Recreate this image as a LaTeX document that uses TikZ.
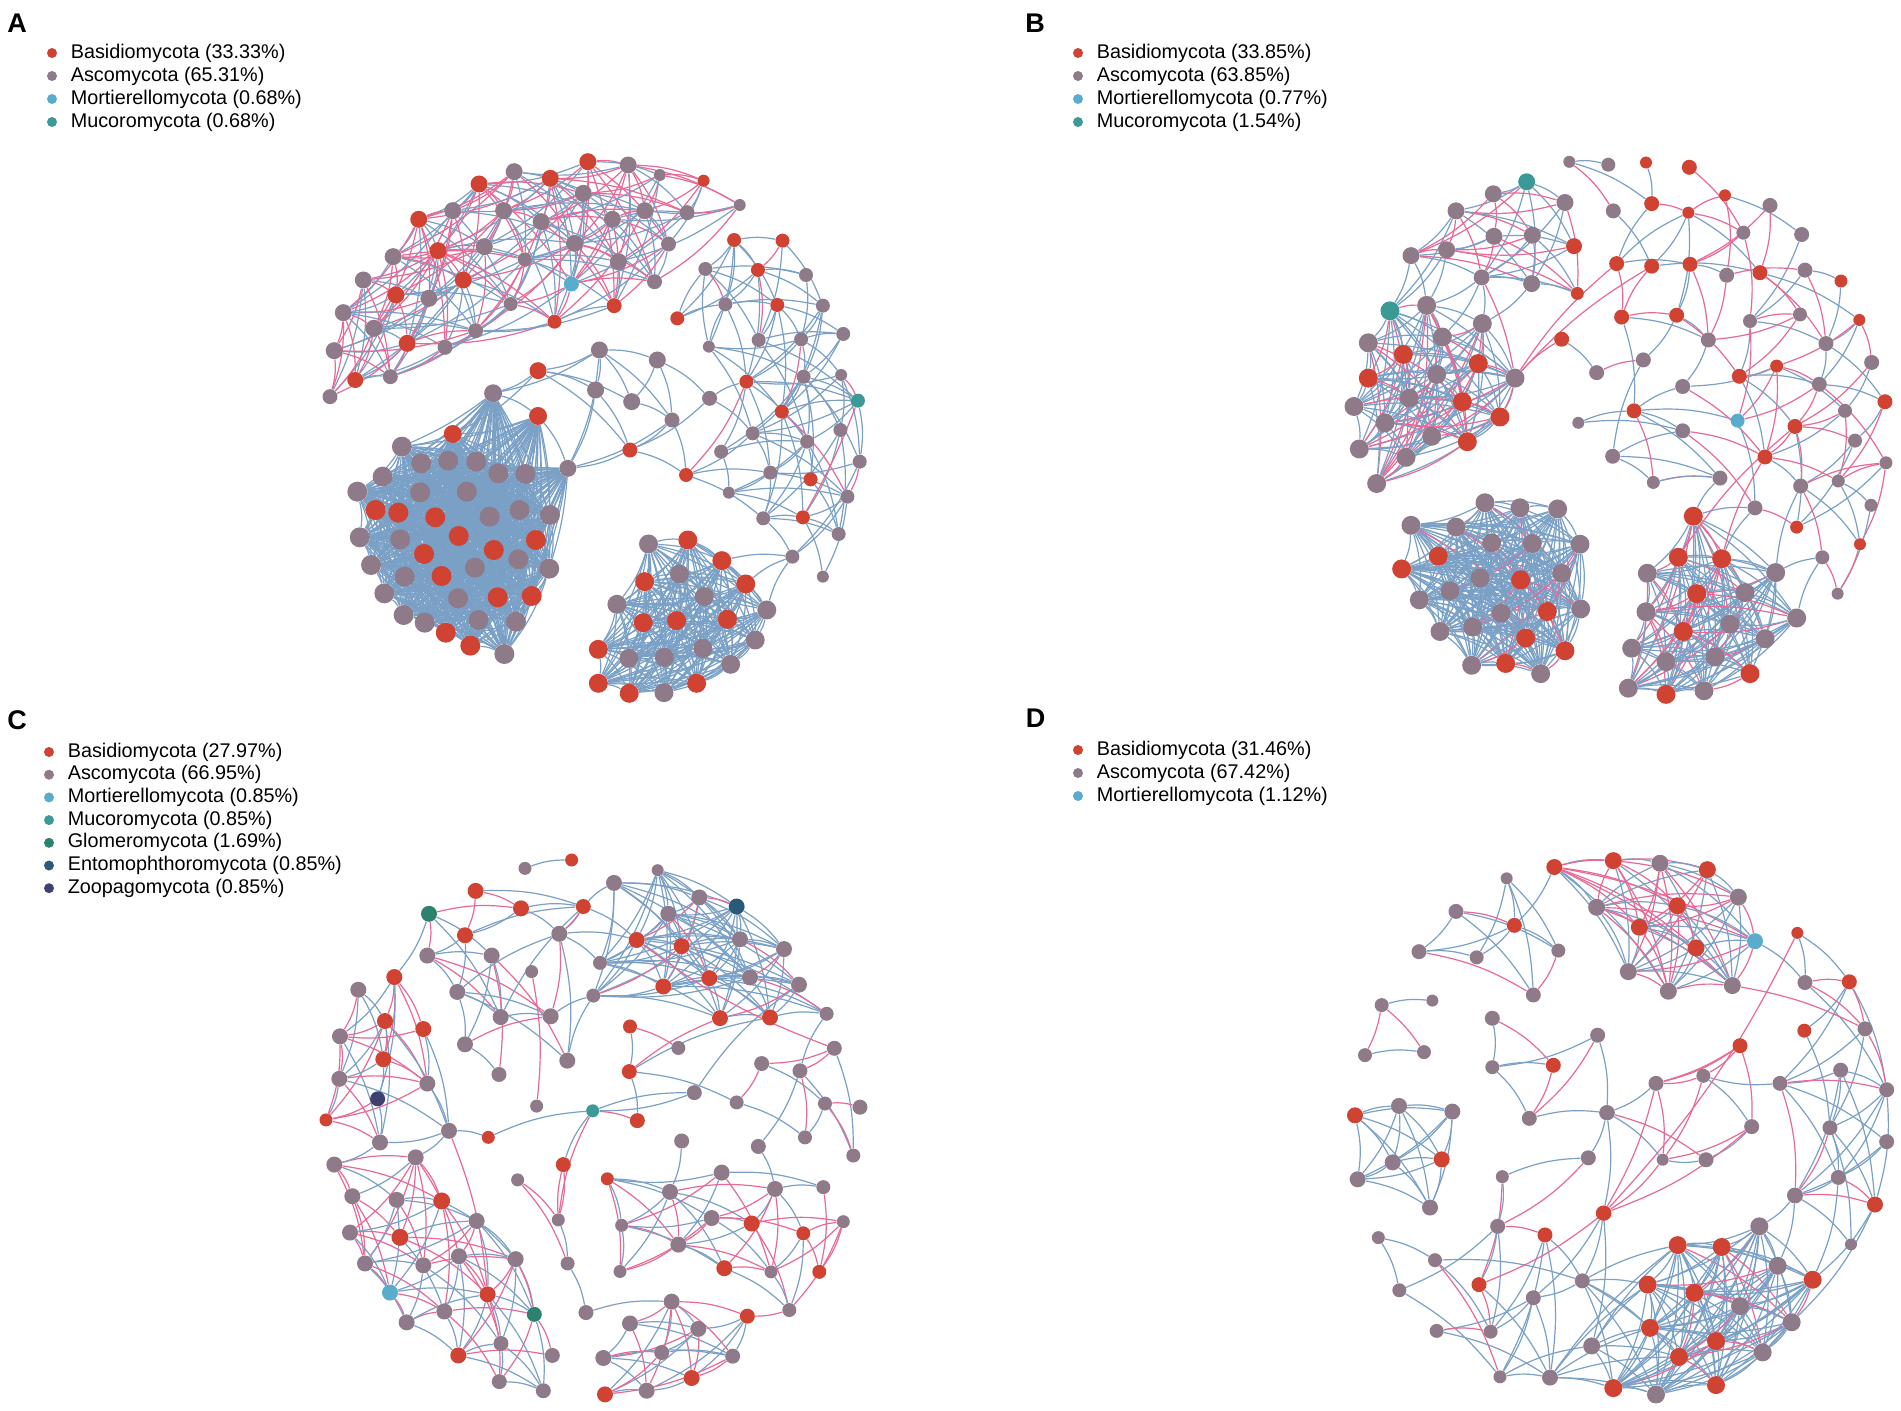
\documentclass[tikz,border=0pt]{standalone}
\usepackage{fontspec}
\setmainfont{Liberation Sans}
\usetikzlibrary{positioning}
\definecolor{basi}{RGB}{208,66,50}
\definecolor{asco}{RGB}{142,122,136}
\definecolor{mort}{RGB}{90,172,204}
\definecolor{muco}{RGB}{60,154,150}
\definecolor{glom}{RGB}{44,130,110}
\definecolor{ento}{RGB}{42,90,120}
\definecolor{zoop}{RGB}{62,64,112}
\definecolor{edgeblue}{RGB}{122,160,198}
\definecolor{edgepink}{RGB}{232,104,150}
\pgfdeclarelayer{edges}
\pgfsetlayers{edges,main}
\tikzset{
  fnode/.style={circle,draw=none,inner sep=0pt,minimum size=#1pt},
  legdot/.style={circle,draw=none,inner sep=0pt,minimum size=5pt},
  legtext/.style={anchor=west,inner sep=0pt,font=\fontsize{9.9}{11}\selectfont},
  panel/.style={inner sep=0pt,font=\fontsize{13.5}{15}\selectfont\bfseries},
  blueedge/.style={draw=edgeblue,line width=0.6pt},
  pinkedge/.style={draw=edgepink,line width=0.6pt},
  gridA/.style={xscale=0.3508,yscale=0.3333},
  gridB/.style={xscale=0.3333,yscale=0.3635},
  gridD/.style={xscale=0.3333,yscale=0.3762},
}
% links inside one group: prefix, count, max distance (pt), chance, pink chance
\newcommand{\linkset}[5]{%
  \foreach \i in {1,...,#2} {%
    \foreach \j in {1,...,#2} {%
      \ifnum\j>\i\relax
        \pgfpointdiff{\pgfpointanchor{#1\i}{center}}{\pgfpointanchor{#1\j}{center}}%
        \pgfgetlastxy{\dx}{\dy}%
        \pgfmathveclen{\dx}{\dy}%
        \ifdim\pgfmathresult pt<#3pt\relax
          \pgfmathrnd
          \ifdim\pgfmathresult pt<#4pt\relax
            \pgfmathrnd
            \ifdim\pgfmathresult pt<#5pt\relax
              \draw[pinkedge] (#1\i) to[bend left=10] (#1\j);
            \else
              \draw[blueedge] (#1\i) to[bend left=10] (#1\j);
            \fi
          \fi
        \fi
      \fi
    }%
  }%
}
\begin{document}
\begin{tikzpicture}[x=0.5pt,y=-0.5pt]
\useasboundingbox (0,0) rectangle (1901,1410);
\pgfmathsetseed{42}

% panel labels
\node[panel] (labA) at (17,23.5) {A};
\node[panel] (labB) at (1035,23) {B};
\node[panel] (labC) at (17,720) {C};
\node[panel] (labD) at (1035.5,718) {D};

% legends
\foreach \txt/\c [count=\k] in {Basidiomycota (33.33\%)/basi, Ascomycota (65.31\%)/asco, Mortierellomycota (0.68\%)/mort, Mucoromycota (0.68\%)/muco} {
  \node[legdot,fill=\c] (legA\k) at (52,{53+23*(\k-1)}) {};
  \node[legtext,right=6.5pt of legA\k] (legAt\k) {\txt};
}
\foreach \txt/\c [count=\k] in {Basidiomycota (33.85\%)/basi, Ascomycota (63.85\%)/asco, Mortierellomycota (0.77\%)/mort, Mucoromycota (1.54\%)/muco} {
  \node[legdot,fill=\c] (legB\k) at (1078,{53+23*(\k-1)}) {};
  \node[legtext,right=6.5pt of legB\k] (legBt\k) {\txt};
}
\foreach \txt/\c [count=\k] in {Basidiomycota (27.97\%)/basi, Ascomycota (66.95\%)/asco, Mortierellomycota (0.85\%)/mort, Mucoromycota (0.85\%)/muco, Glomeromycota (1.69\%)/glom, Entomophthoromycota (0.85\%)/ento, Zoopagomycota (0.85\%)/zoop} {
  \node[legdot,fill=\c] (legC\k) at (49,{752+22.7*(\k-1)}) {};
  \node[legtext,right=6.5pt of legC\k] (legCt\k) {\txt};
}
\foreach \txt/\c [count=\k] in {Basidiomycota (31.46\%)/basi, Ascomycota (67.42\%)/asco, Mortierellomycota (1.12\%)/mort} {
  \node[legdot,fill=\c] (legD\k) at (1078,{750+23*(\k-1)}) {};
  \node[legtext,right=6.5pt of legD\k] (legDt\k) {\txt};
}

% ---------------- panel A ----------------
\begin{scope}[shift={(330,140)},gridA]
\foreach \x/\y/\c/\s [count=\k] in {735/65/basi/8.5, 850/75/asco/8.5, 940/105/asco/6, 1065/122/basi/6, 1168/195/asco/6,
  425/132/basi/8.5, 525/95/asco/8.5, 628/115/basi/8.5, 722/160/asco/8.5, 253/238/basi/8.5, 350/212/asco/8.5,
  495/212/asco/8.5, 602/245/asco/8.5, 805/238/asco/8.5, 897/212/asco/8.5, 1018/218/asco/7.5, 308/332/basi/8.5,
  440/320/asco/8.5, 697/310/asco/8.5, 965/312/asco/7.5, 180/350/asco/8.5, 555/358/asco/7, 822/365/asco/8.5,
  380/420/basi/8.5, 95/420/asco/8.5, 188/465/basi/8.5, 282/475/asco/8.5, 688/432/mort/7.5, 925/425/asco/7.5,
  515/492/asco/7, 38/518/asco/8.5, 640/545/basi/7, 810/497/basi/7.5, 125/565/asco/8.5, 220/610/basi/8.5,
  415/572/asco/7.5, 328/622/asco/7.5, 12/632/asco/8.5, 72/720/basi/8, 172/710/asco/7.5, 0/770/asco/7.5}
  \node[fnode=\s,fill=\c] (at\k) at (\x,\y) {};
\foreach \x/\y/\c/\s [count=\k] in {1152/300/basi/7, 1290/302/basi/7, 1070/387/asco/7, 1220/390/basi/7, 1357/405/asco/7,
  1127/493/asco/7, 1275/495/basi/7, 1405/497/asco/7, 990/535/basi/7, 1222/600/asco/7, 1343/598/asco/7,
  1463/582/asco/7, 1080/620/asco/6, 1350/710/asco/7, 1457/705/asco/6, 1187/725/basi/7, 1505/782/muco/7,
  1288/815/basi/7, 1455/870/asco/7, 1205/880/asco/7}
  \node[fnode=\s,fill=\c] (ar\k) at (\x,\y) {};
\foreach \x/\y/\c/\s [count=\k] in {768/630/asco/8.5, 933/660/asco/8.5, 593/692/basi/8.5, 465/760/asco/9, 757/750/asco/8.5,
  860/785/asco/8.5, 1082/775/asco/7.5, 975/840/asco/7.5, 593/828/basi/9}
  \node[fnode=\s,fill=\c] (am\k) at (\x,\y) {};
\end{scope}
\begin{scope}[shift={(330,380)},gridA]
\foreach \x/\y/\c/\s [count=\k from 21] in {1115/215/asco/7, 1360/185/asco/7, 1510/245/asco/7, 1015/285/basi/7,
  1255/278/asco/7, 1370/298/basi/7, 1137/338/asco/6, 1475/350/asco/7, 1235/415/asco/7, 1348/412/basi/7,
  1450/462/asco/7, 1318/530/asco/7, 1405/590/asco/6}
  \node[fnode=\s,fill=\c] (ar\k) at (\x,\y) {};
\foreach \x/\y/\c/\s [count=\k from 10] in {350/162/basi/9, 855/210/basi/7.5, 678/265/asco/8.5}
  \node[fnode=\s,fill=\c] (am\k) at (\x,\y) {};
\foreach \x/\y/\c [count=\k] in {205/200/asco, 260/250/asco, 337/242/asco, 417/245/asco, 480/280/asco, 557/282/asco,
  150/290/asco, 78/335/asco, 257/337/asco, 390/335/asco, 130/390/basi, 195/398/basi, 300/412/basi, 455/410/asco,
  540/390/asco, 627/405/asco, 85/472/asco, 200/478/asco, 367/468/basi, 467/510/basi, 587/480/basi, 268/522/basi,
  537/538/asco, 117/555/asco, 213/590/asco, 318/588/basi, 413/563/asco, 625/566/asco, 155/640/asco, 365/655/asco,
  478/652/basi, 575/648/basi, 210/705/asco, 270/728/asco, 423/720/asco, 530/725/asco, 330/758/basi, 400/797/basi,
  497/822/asco}
  \node[fnode=10,fill=\c] (ab\k) at (\x,\y) {};
\foreach \x/\y/\c [count=\k] in {908/492/asco, 1020/480/basi, 1117/542/basi, 897/605/basi, 996/582/asco, 1185/612/basi,
  1067/650/asco, 818/673/asco, 1245/690/asco, 893/728/basi, 988/722/basi, 1133/718/basi, 1212/780/asco,
  765/808/basi, 852/835/asco, 953/832/asco, 1063/805/asco, 1142/853/asco, 765/910/basi, 853/940/basi,
  952/938/asco, 1045/910/basi}
  \node[fnode=9.5,fill=\c] (al\k) at (\x,\y) {};
\end{scope}

% ---------------- panel B ----------------
\begin{scope}[shift={(1330,140)},gridB]
\foreach \x/\y/\c/\s [count=\k] in {590/115/muco/8.5, 490/148/asco/8.5, 705/172/asco/8.5, 378/195/asco/8.5,
  492/265/asco/8.5, 607/262/asco/8.5, 732/292/basi/8, 243/318/asco/8.5, 350/302/asco/8.5, 455/378/asco/8,
  605/395/asco/8.5, 742/422/basi/6.5}
  \node[fnode=\s,fill=\c] (bt\k) at (\x,\y) {};
\foreach \x/\y/\c [count=\k] in {180/470/muco, 290/455/asco, 457/505/asco, 115/558/asco, 220/590/basi, 337/542/asco,
  445/615/basi, 115/655/basi, 320/645/asco, 555/655/asco, 72/733/asco, 238/710/asco, 397/720/basi, 510/762/basi,
  165/778/asco, 305/815/asco, 412/830/basi, 88/850/asco, 228/873/asco, 140/945/asco}
  \node[fnode=9.5,fill=\c] (bd\k) at (\x,\y) {};
\foreach \x/\y/\c [count=\k] in {465/998/asco, 570/1012/asco, 683/1015/asco, 243/1060/asco, 378/1065/asco,
  485/1108/asco, 607/1110/asco, 750/1112/asco, 325/1145/basi, 215/1180/basi, 450/1205/asco, 572/1210/basi,
  695/1192/asco, 360/1240/asco, 268/1265/asco, 513/1302/asco, 652/1297/basi, 752/1290/asco, 330/1352/asco,
  428/1340/asco, 587/1370/basi, 705/1405/basi, 425/1445/asco, 527/1440/basi, 632/1468/asco}
  \node[fnode=9.5,fill=\c] (bl\k) at (\x,\y) {};
\foreach \x/\y/\c/\s [count=\k] in {718/60/asco/6, 835/68/asco/7, 850/195/asco/7.5, 860/340/basi/7.5, 875/487/basi/7.5,
  695/548/basi/7.5, 800/640/asco/7.5, 745/778/asco/6, 848/870/asco/7.5}
  \node[fnode=\s,fill=\c] (bm\k) at (\x,\y) {};
\end{scope}
\begin{scope}[shift={(1610,140)},gridB]
\foreach \x/\y/\c/\s [count=\k from 10] in {72/745/basi/7.5, 108/62/basi/6, 238/75/basi/7.5, 125/175/basi/7.5,
  235/200/basi/6, 345/152/basi/6, 480/180/asco/7.5, 400/255/asco/7, 575/260/asco/7.5, 125/347/basi/7.5,
  240/342/basi/7.5, 350/372/asco/7.5, 450/365/basi/7.5, 585/358/asco/7.5, 693/388/basi/6.5, 200/482/basi/7.5,
  420/498/asco/7, 570/480/asco/7, 748/495/basi/6, 295/550/asco/7.5, 100/605/asco/7.5, 648/560/asco/7.5,
  500/622/basi/6.5, 388/650/basi/7.5, 218/678/asco/7.5, 785/612/asco/7.5, 628/672/asco/7.5, 825/720/basi/7.5,
  705/745/asco/7, 383/772/mort/7, 555/788/basi/7.5, 218/800/asco/7.5, 735/827/asco/7, 465/872/basi/7.5,
  130/942/asco/6.5, 330/930/asco/7.5, 572/952/asco/7.5, 685/938/asco/6.5, 828/888/asco/6.5, 783/1005/asco/6.5,
  435/1012/asco/7.5, 560/1065/basi/6.5, 750/1112/basi/6, 637/1148/asco/7, 683/1248/asco/6}
  \node[fnode=\s,fill=\c] (bm\k) at (\x,\y) {};
\foreach \x/\y/\c [count=\k] in {250/1035/basi, 205/1148/basi, 335/1152/basi, 112/1192/asco, 497/1190/asco,
  260/1248/basi, 405/1245/asco, 108/1298/asco, 560/1315/asco, 220/1352/basi, 360/1332/asco, 465/1372/asco,
  65/1398/asco, 168/1435/asco, 315/1422/asco, 420/1468/basi, 55/1508/asco, 168/1525/basi, 282/1515/asco}
  \node[fnode=9.5,fill=\c] (br\k) at (\x,\y) {};
\end{scope}

% ---------------- panel C ----------------
\begin{scope}[shift={(310,840)},gridB]
\foreach \x/\y/\c/\s [count=\k] in {357/203/glom/8, 497/140/basi/8, 633/188/basi/8, 465/262/basi/8, 352/318/asco/8,
  545/318/asco/8, 442/418/asco/8, 572/487/asco/8, 465/562/asco/8, 567/645/asco/7.5, 820/183/basi/7.5,
  748/258/asco/8, 722/485/asco/8, 772/607/asco/8, 645/78/asco/6.5, 785/55/basi/6.5, 665/362/asco/6.5,
  680/732/asco/6.5}
  \node[fnode=\s,fill=\c] (ca\k) at (\x,\y) {};
\foreach \x/\y/\c/\s [count=\k] in {253/377/basi/8, 145/412/asco/8, 225/498/basi/8, 340/520/basi/8, 90/540/asco/8,
  220/603/basi/8, 88/657/asco/8, 352/670/asco/8, 203/712/zoop/7.5, 48/770/basi/6.5, 417/800/asco/8,
  210/832/asco/8, 535/818/basi/6.5}
  \node[fnode=\s,fill=\c] (cb\k) at (\x,\y) {};
\foreach \x/\y/\c/\s [count=\k] in {73/893/asco/8, 317/873/asco/8, 127/980/asco/8, 260/990/asco/8, 395/993/basi/8.5,
  120/1080/asco/8, 270/1093/basi/8.5, 500/1048/asco/8, 165/1165/asco/8, 340/1170/asco/8, 447/1145/asco/8,
  240/1245/mort/8, 290/1327/asco/8, 403/1297/asco/8, 617/1153/asco/8, 533/1250/basi/8, 673/1305/glom/7.5,
  445/1418/basi/8, 573/1385/asco/7.5, 727/1418/asco/7.5, 568/1490/asco/7.5, 700/1515/asco/7.5}
  \node[fnode=\s,fill=\c] (cc\k) at (\x,\y) {};
\foreach \x/\y/\c/\s [count=\k] in {623/935/asco/6.5, 760/893/basi/7.5, 745/1045/asco/6.5, 773/1165/asco/7,
  828/1300/asco/7.5}
  \node[fnode=\s,fill=\c] (cm\k) at (\x,\y) {};
\end{scope}
\begin{scope}[shift={(580,840)},gridB]
\foreach \x/\y/\c/\s [count=\k from 6] in {150/513/basi/7, 295/572/asco/7, 763/573/asco/7.5, 545/615/asco/7.5,
  660/635/asco/7.5, 148/637/basi/7.5, 343/695/asco/7.5, 470/722/asco/7, 735/725/asco/7, 840/735/asco/7.5,
  38/745/muco/6.5, 172/772/basi/7.5, 675/818/asco/7, 820/868/asco/7, 305/828/asco/7.5, 535/843/asco/7.5}
  \node[fnode=\s,fill=\c] (cm\k) at (\x,\y) {};
\foreach \x/\y/\c/\s [count=\k] in {233/83/asco/6, 102/118/asco/8, 358/158/asco/8, 470/183/ento/8, 265/203/asco/8,
  170/275/basi/8, 305/292/basi/8, 480/273/asco/8, 612/300/asco/8, 60/338/asco/7, 250/403/basi/8,
  388/380/basi/8, 510/378/asco/8, 657/398/asco/8, 40/428/asco/7, 420/490/basi/8, 570/488/basi/8, 740/478/asco/7}
  \node[fnode=\s,fill=\c] (cd\k) at (\x,\y) {};
\foreach \x/\y/\c/\s [count=\k] in {425/915/asco/8, 82/932/basi/6.5, 270/968/asco/8, 585/960/asco/8, 730/955/asco/7,
  395/1040/asco/8, 515/1055/basi/8, 125/1060/asco/6.5, 295/1113/asco/8, 670/1082/basi/7, 790/1050/asco/6.5,
  433/1178/basi/8, 120/1187/asco/6.5, 573/1188/asco/6.5, 718/1188/basi/7, 628/1293/asco/7}
  \node[fnode=\s,fill=\c] (ce\k) at (\x,\y) {};
\foreach \x/\y/\c/\s [count=\k] in {275/1270/asco/8, 502/1310/basi/7.5, 150/1330/asco/8, 355/1345/asco/8,
  70/1425/asco/8, 245/1410/asco/7.5, 458/1420/asco/7.5, 335/1480/basi/8, 75/1525/basi/8, 200/1515/asco/8}
  \node[fnode=\s,fill=\c] (cf\k) at (\x,\y) {};
\end{scope}

% ---------------- panel D ----------------
\begin{scope}[shift={(1330,820)},gridD]
\foreach \x/\y/\c/\s [count=\k] in {673/125/basi/8, 800/232/asco/8.5}
  \node[fnode=\s,fill=\c] (dt\k) at (\x,\y) {};
\foreach \x/\y/\c/\s [count=\k] in {530/155/asco/6, 378/243/asco/7.5, 553/280/basi/7.5, 267/350/asco/7.5,
  440/365/asco/7, 685/347/asco/7, 610/465/asco/7.5}
  \node[fnode=\s,fill=\c] (da\k) at (\x,\y) {};
\foreach \x/\y/\c/\s [count=\k] in {155/492/asco/7, 307/480/asco/6, 105/625/asco/7, 282/617/asco/7}
  \node[fnode=\s,fill=\c] (db\k) at (\x,\y) {};
\foreach \x/\y/\c/\s [count=\k] in {487/527/asco/7.5, 803/572/asco/7.5, 487/657/asco/7, 670/652/basi/7.5,
  598/793/asco/7.5}
  \node[fnode=\s,fill=\c] (dc\k) at (\x,\y) {};
\foreach \x/\y/\c [count=\k] in {75/785/basi, 207/760/asco, 367/775/asco, 188/910/asco, 335/902/basi, 83/955/asco,
  300/1030/asco}
  \node[fnode=8,fill=\c] (dd\k) at (\x,\y) {};
\foreach \x/\y/\c/\s [count=\k] in {830/778/asco/7.5, 775/898/asco/7.5, 517/948/asco/6.5, 820/1045/basi/7.5,
  503/1080/asco/7.5, 645/1103/basi/7.5, 145/1110/asco/6.5, 315/1170/asco/7, 757/1225/asco/7.5, 447/1235/basi/7.5,
  208/1250/asco/7, 610/1270/asco/7.5, 320/1358/asco/7, 482/1360/asco/7, 510/1480/asco/6.5, 660/1482/asco/8,
  785/1398/asco/8.5}
  \node[fnode=\s,fill=\c] (de\k) at (\x,\y) {};
\end{scope}
\begin{scope}[shift={(1600,820)},gridD]
\foreach \x/\y/\c/\s [count=\k from 3] in {40/108/basi/8.5, 180/115/asco/8.5, 322/132/basi/8.5, 415/205/asco/8.5,
  232/228/basi/8.5, 118/285/basi/8.5, 288/340/basi/8.5, 465/322/mort/8, 85/403/asco/8.5, 205/455/asco/8.5,
  397/440/asco/8.5}
  \node[fnode=\s,fill=\c] (dt\k) at (\x,\y) {};
\foreach \x/\y/\c/\s [count=\k] in {592/300/basi/6, 615/432/asco/7.5, 748/430/basi/7.5, 613/560/basi/7,
  795/555/asco/7.5, 722/665/asco/7.5, 540/700/asco/7.5, 860/717/asco/7.5, 690/818/asco/7.5, 860/855/asco/7.5,
  715/950/asco/7.5, 585/998/asco/8, 825/1022/basi/8, 753/1128/asco/6}
  \node[fnode=\s,fill=\c] (dr\k) at (\x,\y) {};
\foreach \x/\y/\c/\s [count=\k] in {420/600/basi/7.5, 310/680/asco/7, 168/700/asco/7.5, 22/778/asco/7.5,
  455/815/asco/7.5, 318/903/asco/7.5, 188/903/asco/6, 12/1045/basi/7.5}
  \node[fnode=\s,fill=\c] (dm\k) at (\x,\y) {};
\foreach \x/\y/\c [count=\k] in {478/1080/asco, 233/1130/basi, 365/1135/basi, 533/1185/asco, 638/1222/basi,
  143/1235/basi, 283/1257/basi, 420/1292/asco, 575/1335/asco, 150/1350/basi, 348/1385/basi, 237/1427/basi,
  488/1415/asco, 40/1510/basi, 168/1527/asco, 348/1502/basi}
  \node[fnode=9,fill=\c] (dl\k) at (\x,\y) {};
\end{scope}

\begin{pgfonlayer}{edges}
% connectors panel A
\linkset{at}{41}{75}{0.55}{0.45}
\linkset{ar}{33}{60}{0.45}{0.1}
\linkset{am}{12}{65}{0.6}{0}
\linkset{ab}{39}{400}{1}{0}
\linkset{al}{22}{400}{1}{0}
\foreach \h in {am4,am9,am12,am10}
  \foreach \k in {1,...,39} \draw[blueedge] (\h) to[bend left=6] (ab\k);
\foreach \u/\v in {am7/ar20, am7/ar16, am8/ar24, am11/ar24, al6/ar32, al9/ar32, al3/ar32, ar18/ar17, at30/at40,
  ar9/ar3, ar9/ar6, ar13/ar3, ar13/ar6}
  \draw[blueedge] (\u) to[bend left=10] (\v);
\draw[pinkedge] (ar17) to[bend left=4] (ar30);

% connectors panel B
\linkset{bt}{12}{75}{0.6}{0.45}
\linkset{bd}{20}{400}{0.8}{0.3}
\linkset{bl}{25}{400}{1}{0.05}
\linkset{bm}{54}{55}{0.32}{0.5}
\linkset{br}{19}{400}{0.9}{0.2}
\foreach \u/\v in {bt8/bd1, bt8/bd2, bt9/bd2, bt10/bd3, bt10/bd2, bt4/bd1, bt10/bd6, bt9/bd1, bt11/bd3,
  br1/bm45, br1/bm50, br3/bm50, br5/bm53, br5/bm46, br9/bm53, bm44/bm45, bm8/bm41, bm8/bm10}
  \draw[blueedge] (\u) to[bend left=10] (\v);
\foreach \u/\v in {bd10/bm6, bd10/bm4, bd10/bm19, bd10/bd14, bt10/bd10, br2/bm40, br3/bm43, bm52/bm54}
  \draw[pinkedge] (\u) to[bend left=8] (\v);

% connectors panel C
\linkset{ca}{14}{70}{0.55}{0.25}
\linkset{cb}{12}{65}{0.6}{0.45}
\linkset{cc}{22}{60}{0.6}{0.5}
\linkset{cd}{18}{85}{0.7}{0.08}
\linkset{cm}{21}{60}{0.35}{0.55}
\linkset{ce}{16}{60}{0.6}{0.45}
\linkset{cf}{10}{70}{0.75}{0.4}
\foreach \u/\v in {ca15/ca16, ca11/cd6, ca11/cd2, ca12/cd6, ca12/cd10, ca13/cd15, ca14/cd15, cb12/cc1, cb11/cc2,
  cb11/cb13, cb13/cm16, cm16/cm12, cm5/cf1, cm10/cd18, cm11/cd17, cm12/cd14, cm20/ce3, cm21/ce4, ca1/cb1,
  cm6/cm11, cm3/cm4}
  \draw[blueedge] (\u) to[bend left=10] (\v);
\foreach \u/\v in {ca17/ca18, cb11/cc16, cc15/cc17, cm11/cd16, cm8/cd6, cm16/cm17, ce16/cf2, ca11/ca12, cm6/cm7,
  cm3/cm2}
  \draw[pinkedge] (\u) to[bend left=8] (\v);

% connectors panel D
\linkset{dt}{13}{400}{0.85}{0.5}
\linkset{da}{7}{75}{0.6}{0.4}
\linkset{dc}{5}{400}{0.8}{0.25}
\linkset{dd}{7}{400}{1}{0}
\linkset{de}{17}{80}{0.32}{0.1}
\linkset{dr}{14}{70}{0.6}{0.3}
\linkset{dm}{8}{90}{0.5}{0.6}
\linkset{dl}{16}{400}{1}{0.12}
\foreach \h in {de16,de17,de9}
  \foreach \k in {2,6,10,12,14,15} \draw[blueedge] (\h) to[bend left=8] (dl\k);
\foreach \u/\v in {db1/db2, db3/db4, dt1/da3, dt10/dr2, dr12/dl1, dr12/dl4, dr11/dl5, dr13/dl5, dr13/dl9,
  dm4/de1, dc2/de1, dc5/de1, de4/dm8, dr7/dm2, de3/de5, de3/de2, de7/de11}
  \draw[blueedge] (\u) to[bend left=10] (\v);
\foreach \u/\v in {db1/db3, db1/db4, dt1/dt3, dt13/dr5, dr1/dm8, dm1/dm3, dm3/de4, dr3/dr5, dm8/de10}
  \draw[pinkedge] (\u) to[bend left=8] (\v);
\end{pgfonlayer}
\end{tikzpicture}
\end{document}
